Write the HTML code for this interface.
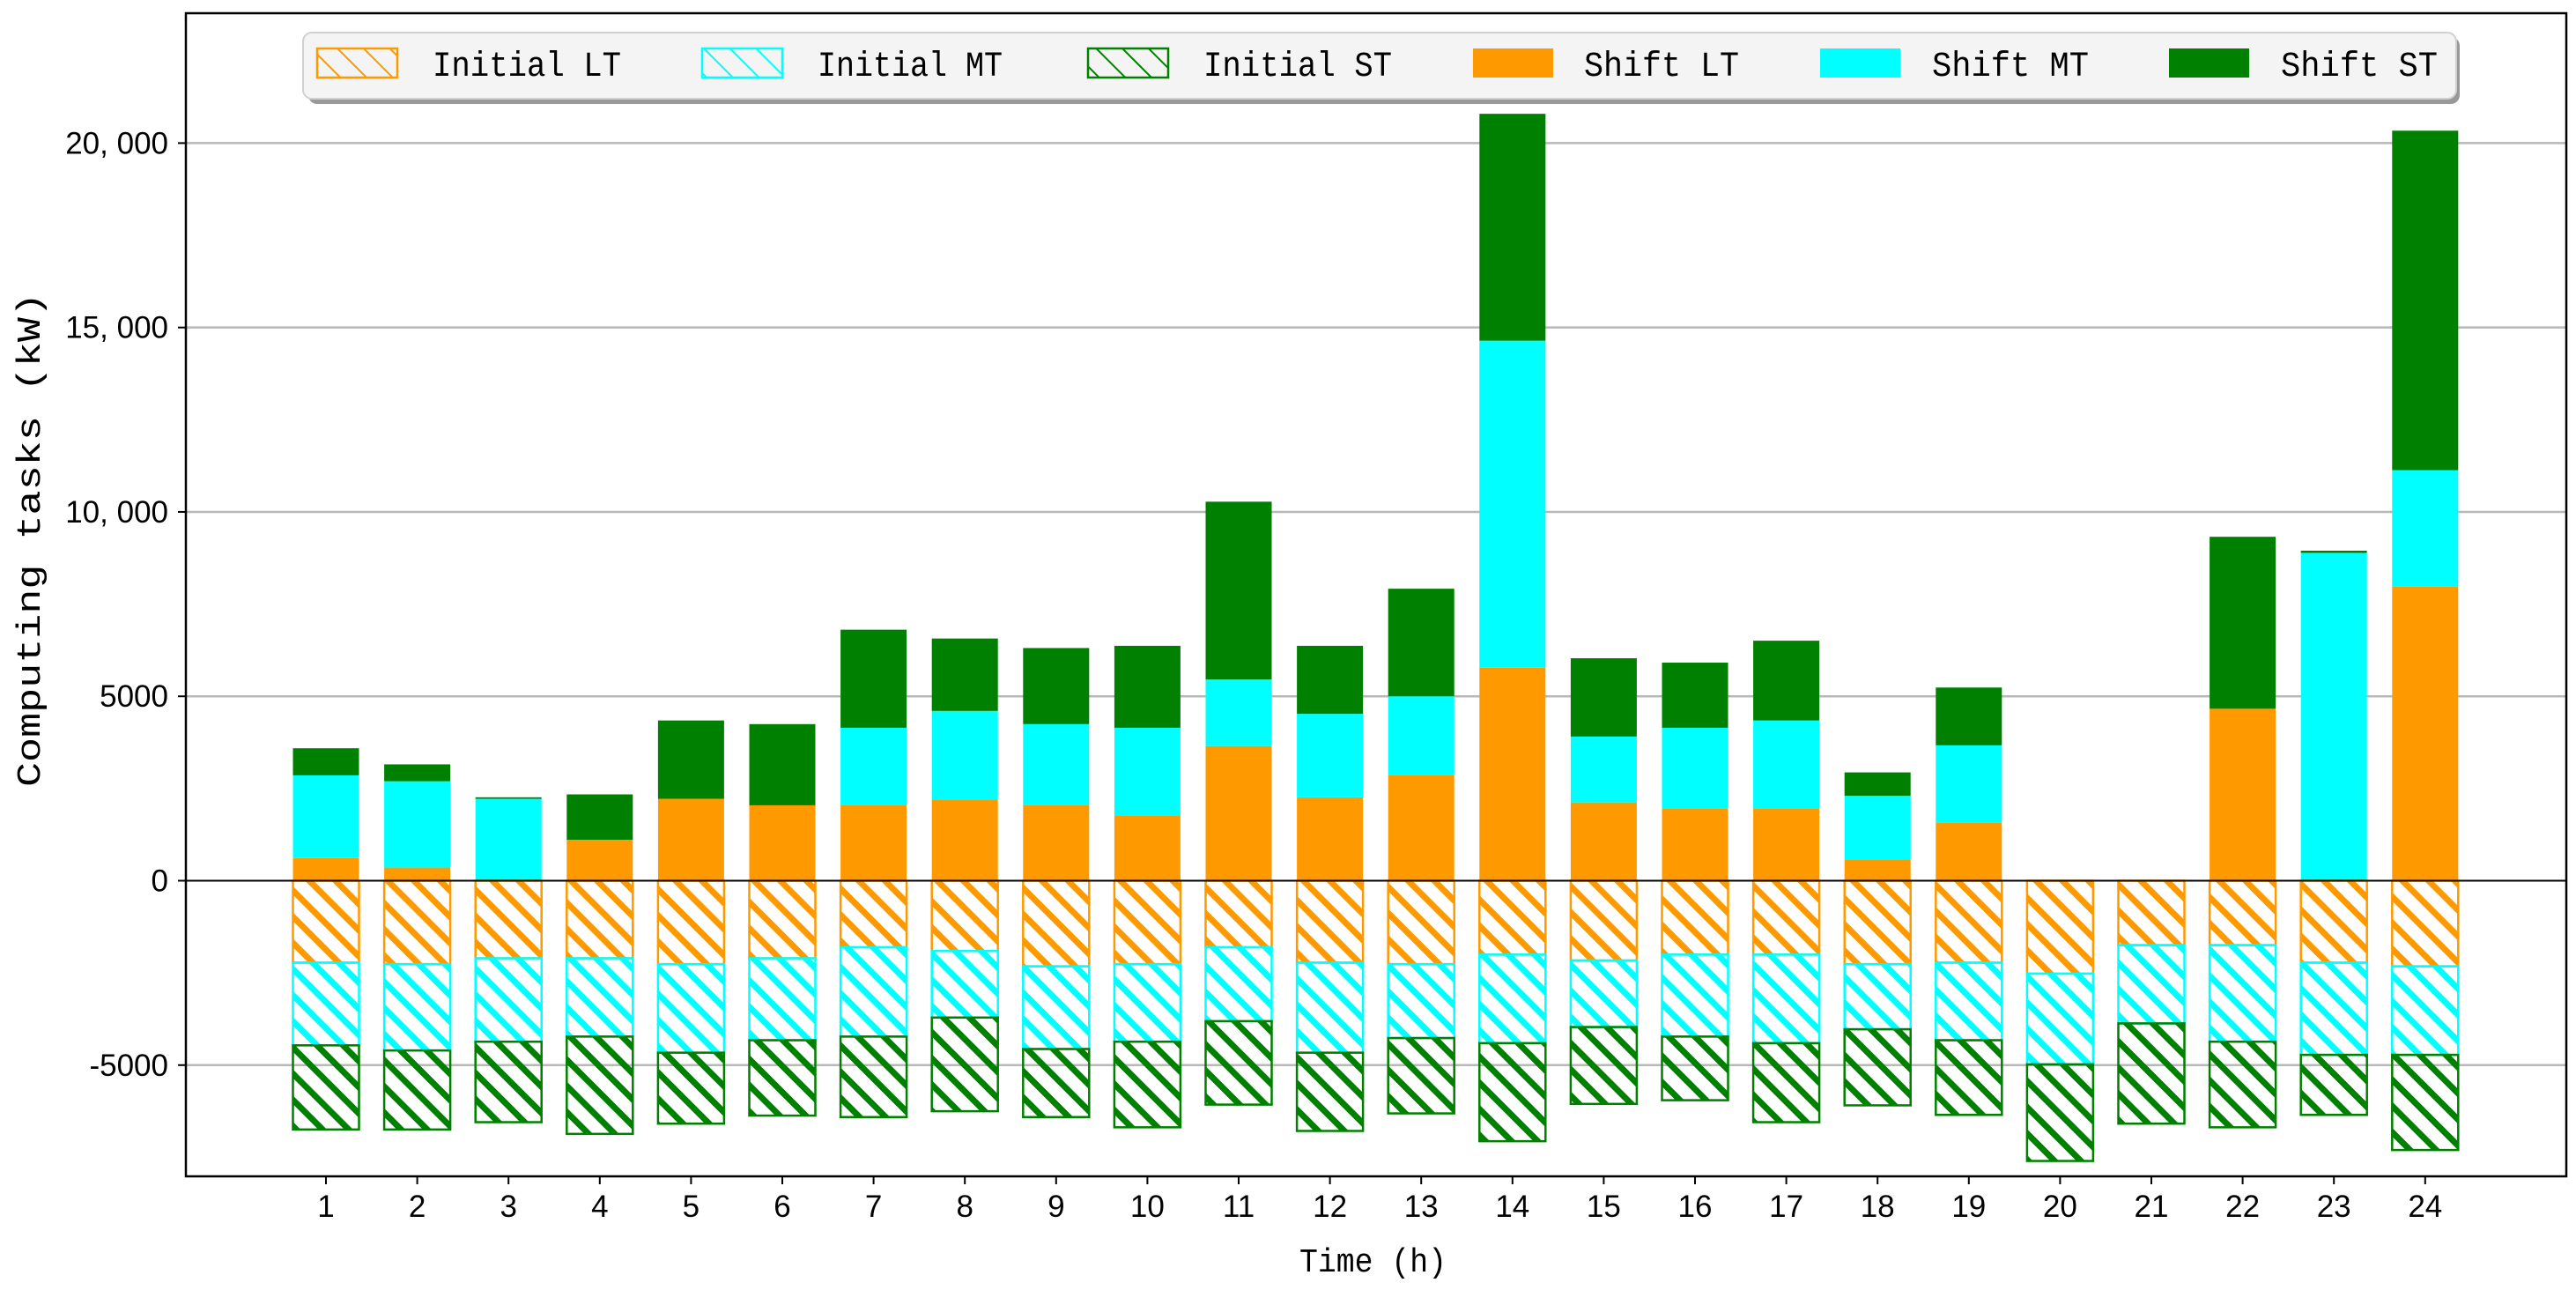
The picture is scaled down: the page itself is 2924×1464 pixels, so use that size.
<!DOCTYPE html>
<html><head><meta charset="utf-8"><style>
html,body{margin:0;padding:0;background:#fff;}
svg{display:block;}
</style></head><body>
<svg id="chart" width="2924" height="1464" viewBox="0 0 2924 1464" xmlns="http://www.w3.org/2000/svg">
<defs>
<pattern id="hLT" patternUnits="userSpaceOnUse" width="21" height="21" patternTransform="rotate(-45)"><rect x="0" y="0" width="7" height="21" fill="#ff9900"/></pattern>
<pattern id="hMT" patternUnits="userSpaceOnUse" width="21" height="21" patternTransform="rotate(-45)"><rect x="0" y="0" width="7" height="21" fill="#00ffff"/></pattern>
<pattern id="hST" patternUnits="userSpaceOnUse" width="21" height="21" patternTransform="rotate(-45)"><rect x="0" y="0" width="7" height="21" fill="#008000"/></pattern>
<pattern id="lLT" patternUnits="userSpaceOnUse" width="21" height="21" patternTransform="rotate(-45)"><rect x="0" y="0" width="2" height="21" fill="#ff9900"/></pattern>
<pattern id="lMT" patternUnits="userSpaceOnUse" width="21" height="21" patternTransform="rotate(-45)"><rect x="0" y="0" width="2" height="21" fill="#00ffff"/></pattern>
<pattern id="lST" patternUnits="userSpaceOnUse" width="21" height="21" patternTransform="rotate(-45)"><rect x="0" y="0" width="2" height="21" fill="#008000"/></pattern>
</defs>
<g id="grid"></g>
<g id="bars"></g>
<g id="axes"></g>
<g id="legend"></g>
</svg>
<script>
const hours = [1,2,3,4,5,6,7,8,9,10,11,12,13,14,15,16,17,18,19,20,21,22,23,24];
const shiftLT = [615,357,0,1111,2222,2044,2044,2202,2044,1766,3651,2262,2857,5774,2123,1964,1964,575,1567,0,0,4663,0,7976];
const shiftMT = [2242,2341,2222,0,0,0,2103,2401,2202,2381,1805,2262,2143,8869,1786,2183,2381,1727,2104,0,0,0,8889,3155];
const shiftST = [734,457,40,1230,2123,2202,2659,1964,2063,2222,4821,1845,2917,6151,2123,1766,2163,635,1567,0,0,4662,59,9206];
const initLT = [2222,2262,2103,2103,2262,2103,1805,1905,2321,2262,1805,2222,2262,2004,2163,2004,2004,2262,2222,2520,1746,1746,2222,2321];
const initMT = [2242,2341,2262,2123,2401,2222,2421,1805,2242,2103,2004,2441,2004,2401,1805,2222,2401,1766,2103,2460,2123,2619,2500,2401];
const initST = [2282,2143,2182,2639,1924,2044,2183,2540,1846,2321,2262,2122,2043,2658,2084,1726,2142,2063,2024,2619,2718,2321,1627,2580];
const yTicks = [-5000,0,5000,10000,15000,20000];
const yTickLabels = ["-5000","0","5000","10, 000","15, 000","20, 000"];

const NS = "http://www.w3.org/2000/svg";
const L = 211, R = 2913, T = 15, B = 1335;
const x = h => 370 + (h - 1) * 103.6;
const y = v => 999.5 - v * 0.041855;
const BW = 75;
function mk(tag, attrs, parent) {
  const e = document.createElementNS(NS, tag);
  for (const k in attrs) e.setAttribute(k, attrs[k]);
  parent.appendChild(e);
  return e;
}
const grid = document.getElementById('grid');
const bars = document.getElementById('bars');
const axes = document.getElementById('axes');
const legend = document.getElementById('legend');

yTicks.forEach((t, i) => {
  if (t !== 0) {
    const g = mk('line', {x1: L, x2: R, y1: y(t), y2: y(t), stroke: '#b8b8b8', 'stroke-width': 2.5}, grid);
    
    
  }
  const tk = mk('line', {x1: L - 9, x2: L, y1: y(t), y2: y(t), stroke: '#000', 'stroke-width': 2}, axes);
  
  
  const lb = mk('text', {x: L - 20, y: y(t) + 12, 'text-anchor': 'end', 'font-family': 'Liberation Sans, sans-serif', 'font-size': 35, fill: '#000'}, axes);
  lb.textContent = yTickLabels[i];
  
  
});

function seg(h, v0, v1, fill, stroke, name) {
  if (v1 === v0) return;
  const ya = y(Math.max(v0, v1)), yb = y(Math.min(v0, v1));
  const r = mk('rect', {x: x(h) - BW / 2, y: ya, width: BW, height: yb - ya, fill: fill}, bars);
  if (stroke) { r.setAttribute('stroke', stroke); r.setAttribute('stroke-width', 2.5); }
  
  
}
hours.forEach((h, i) => {
  const a = shiftLT[i], b = a + shiftMT[i], c = b + shiftST[i];
  seg(h, 0, a, '#ff9900', null, 'bar-shift-lt-' + h);
  seg(h, a, b, '#00ffff', null, 'bar-shift-mt-' + h);
  seg(h, b, c, '#008000', null, 'bar-shift-st-' + h);
  const d = -initLT[i], e = d - initMT[i], f = e - initST[i];
  seg(h, 0, d, 'url(#hLT)', '#ff9900', 'bar-initial-lt-' + h);
  seg(h, d, e, 'url(#hMT)', '#00ffff', 'bar-initial-mt-' + h);
  seg(h, e, f, 'url(#hST)', '#008000', 'bar-initial-st-' + h);
  const tk = mk('line', {x1: x(h), x2: x(h), y1: B, y2: B + 9, stroke: '#000', 'stroke-width': 2}, axes);
  
  
  const lb = mk('text', {x: x(h), y: B + 46, 'text-anchor': 'middle', 'font-family': 'Liberation Sans, sans-serif', 'font-size': 35, fill: '#000'}, axes);
  lb.textContent = h;
  
  
});
const zl = mk('line', {x1: L, x2: R, y1: y(0), y2: y(0), stroke: '#000', 'stroke-width': 2}, axes);


const frame = mk('rect', {x: L, y: T, width: R - L, height: B - T, fill: 'none', stroke: '#000', 'stroke-width': 2.5}, axes);


const xt = mk('text', {x: 1475, y: 1443, 'font-family': 'Liberation Mono, monospace', 'font-size': 38, textLength: 167, lengthAdjust: 'spacingAndGlyphs', fill: '#000'}, axes);
xt.textContent = 'Time (h)';


const yt = mk('text', {x: 0, y: 0, transform: 'translate(45,893) rotate(-90)', 'font-family': 'Liberation Mono, monospace', 'font-size': 38, textLength: 561, lengthAdjust: 'spacingAndGlyphs', fill: '#000'}, axes);
yt.textContent = 'Computing tasks (kW)';



// legend
const sh = mk('rect', {x: 350, y: 42, width: 2442, height: 76, rx: 10, fill: '#999'}, legend);


const box = mk('rect', {x: 344, y: 37, width: 2444, height: 75, rx: 10, fill: '#f4f4f4', stroke: '#d0d0d0', 'stroke-width': 2}, legend);


const items = [
  {p: 360, t: 491, w: 214, label: 'Initial LT', fill: 'url(#lLT)', stroke: '#ff9900'},
  {p: 797, t: 928, w: 210, label: 'Initial MT', fill: 'url(#lMT)', stroke: '#00ffff'},
  {p: 1235, t: 1366, w: 214, label: 'Initial ST', fill: 'url(#lST)', stroke: '#008000'},
  {p: 1672, t: 1798, w: 176, label: 'Shift LT', fill: '#ff9900', stroke: null},
  {p: 2066, t: 2193, w: 178, label: 'Shift MT', fill: '#00ffff', stroke: null},
  {p: 2462, t: 2589, w: 178, label: 'Shift ST', fill: '#008000', stroke: null}
];
items.forEach(it => {
  const r = mk('rect', {x: it.p, y: 55, width: 91, height: 33, fill: it.fill}, legend);
  if (it.stroke) { r.setAttribute('stroke', it.stroke); r.setAttribute('stroke-width', 2.5); }
  
  
  const t = mk('text', {x: it.t, y: 86, 'font-family': 'Liberation Mono, monospace', 'font-size': 40, textLength: it.w, lengthAdjust: 'spacingAndGlyphs', fill: '#000'}, legend);
  t.textContent = it.label;
  
  
});
</script>
</body></html>
